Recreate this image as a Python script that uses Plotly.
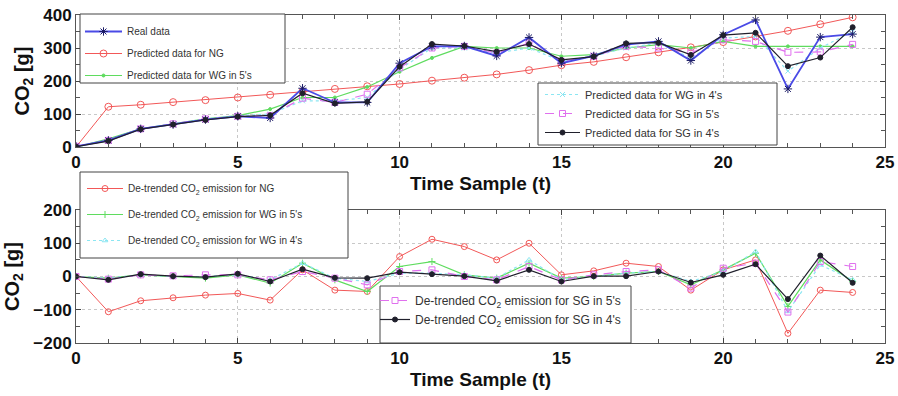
import plotly.graph_objects as go

# ---- data -----------------------------------------------------------------
t = list(range(25))

real_data = [2, 20, 55, 68, 83, 93, 88, 178, 135, 135, 254, 305, 306, 276, 332,
             254, 276, 310, 320, 262, 340, 385, 176, 333, 342]
pred_ng = [0, 122, 128, 136, 142, 150, 158, 168, 176, 184, 191, 201, 210, 220, 233,
           248, 258, 272, 287, 302, 318, 335, 352, 372, 393]
pred_wg5 = [0, 25, 55, 70, 85, 95, 115, 150, 150, 182, 228, 270, 305, 300, 300,
            275, 280, 300, 310, 300, 320, 305, 305, 305, 305]
pred_wg4 = [0, 20, 55, 70, 85, 95, 100, 140, 140, 150, 235, 300, 300, 285, 300,
            260, 275, 300, 315, 270, 330, 335, 230, 300, 350]
pred_sg5 = [2, 20, 55, 70, 85, 93, 95, 148, 135, 160, 240, 300, 305, 285, 315,
            260, 275, 305, 300, 285, 325, 320, 287, 288, 311]
pred_sg4 = [1, 18, 54, 68, 82, 92, 96, 163, 132, 137, 243, 312, 306, 289, 312,
            264, 274, 314, 316, 279, 339, 346, 245, 271, 363]

dt_ng = [0, -106, -73, -64, -56, -51, -71, 20, -41, -45, 60, 112, 90, 50, 100,
         5, 17, 40, 30, -41, 20, 50, -171, -41, -48]
dt_wg5 = [0, -5, 5, 0, -5, 5, -20, 40, -10, -45, 30, 45, 5, -5, 40,
          -5, 0, 10, 15, -25, 20, 70, -90, 50, -15]
dt_wg4 = [0, -5, 5, 0, 0, 5, -10, 40, -5, -15, 10, 10, 5, -5, 50,
          -10, 0, 10, 15, -15, 15, 75, -105, 35, -10]
dt_sg5 = [0, -8, 5, 2, 5, 5, -10, 15, -5, -25, 15, 20, 0, -10, 30,
          -10, 5, 15, 20, -35, 25, 40, -107, 45, 30]
dt_sg4 = [0, -10, 7, 1, -2, 8, -15, 22, -4, -5, 13, 7, 1, -13, 20,
          -15, 1, 1, 15, -18, 5, 37, -68, 63, -19]

x_ticks = [0, 5, 10, 15, 20, 25]
top_ticks = [0, 100, 200, 300, 400]
bottom_ticks = [-200, -100, 0, 100, 200]

# ---- styles ---------------------------------------------------------------
BLUE = "#4a4ae6"
NAVY = "#1c1c66"
RED = "#f25858"
GREEN = "#5fdc5f"
CYAN = "#8ce6f2"
MAGENTA = "#e070ee"
BLACK = "#20202c"

FONT = "Liberation Sans"
CO2 = "CO<sub>2</sub>"

fig = go.Figure()


def add(x, y, name, color, width, dash, symbol, msize, mcolor, xa, ya, legend):
    fig.add_trace(go.Scatter(
        x=x, y=y, name=name, mode="lines+markers",
        line=dict(color=color, width=width, dash=dash),
        marker=dict(symbol=symbol, size=msize, color=mcolor,
                    line=dict(color=mcolor, width=1)),
        xaxis=xa, yaxis=ya, legend=legend, legendgroup=name,
    ))


# upper panel: measured and predicted emission
add(t, pred_ng, "Predicted data for NG", RED, 1, "solid", "circle-open", 7, RED, "x", "y", "legend")
add(t, pred_wg5, "Predicted data for WG in 5's", GREEN, 1.2, "solid", "circle", 3, GREEN, "x", "y", "legend")
add(t, pred_wg4, "Predicted data for WG in 4's", CYAN, 1.2, "dot", "x-thin-open", 5, CYAN, "x", "y", "legend2")
add(t, pred_sg5, "Predicted data for SG in 5's", MAGENTA, 1.2, "dash", "square-open", 6, MAGENTA, "x", "y", "legend2")
add(t, real_data, "Real data", BLUE, 1.8, "solid", "asterisk-open", 7, NAVY, "x", "y", "legend")
add(t, pred_sg4, "Predicted data for SG in 4's", BLACK, 1.2, "solid", "circle", 5, BLACK, "x", "y", "legend2")

# lower panel: de-trended emission
add(t, dt_ng, f"De-trended {CO2} emission for NG", RED, 1, "solid", "circle-open", 6, RED, "x2", "y2", "legend3")
add(t, dt_wg5, f"De-trended {CO2} emission for WG in 5's", GREEN, 1.2, "solid", "cross-thin-open", 5, GREEN, "x2", "y2", "legend3")
add(t, dt_wg4, f"De-trended {CO2} emission for WG in 4's", CYAN, 1.2, "dot", "triangle-up-open", 5, CYAN, "x2", "y2", "legend3")
add(t, dt_sg5, f"De-trended {CO2} emission for SG in 5's", MAGENTA, 1.2, "dash", "square-open", 6, MAGENTA, "x2", "y2", "legend4")
add(t, dt_sg4, f"De-trended {CO2} emission for SG in 4's", BLACK, 1.2, "solid", "circle", 5, BLACK, "x2", "y2", "legend4")

# legend order inside the first box
order1 = ["Real data", "Predicted data for NG", "Predicted data for WG in 5's"]
for tr in fig.data:
    if tr.name in order1:
        tr.legendrank = order1.index(tr.name) + 1

tickfont = dict(family=FONT, size=17, color="#111", weight="bold")
titlefont = dict(family=FONT, size=19, color="#111", weight="bold")

common_x = dict(
    range=[0, 25], tickvals=x_ticks, ticks="inside", ticklen=5, tickcolor="#444",
    showline=True, linecolor="#555", linewidth=1, mirror="ticks",
    showgrid=True, gridcolor="#c8c8c8", griddash="dot", gridwidth=1,
    zeroline=False, tickfont=tickfont, automargin=False,
    minor=dict(dtick=1, ticks="inside", ticklen=4, tickcolor="#555", showgrid=False),
    title=dict(text="Time Sample (t)", font=titlefont, standoff=5),
)
common_y = dict(
    ticks="inside", ticklen=5, tickcolor="#444",
    showline=True, linecolor="#555", linewidth=1, mirror="ticks",
    showgrid=True, gridcolor="#c8c8c8", griddash="dot", gridwidth=1,
    zeroline=False, tickfont=tickfont, automargin=False,
    minor=dict(dtick=50, ticks="inside", ticklen=4, tickcolor="#555", showgrid=False),
    title=dict(text=f"{CO2} [g]", font=dict(titlefont, size=20), standoff=8),
)

L, R, T, B = 76, 13, 15, 53
W, H = 898, 396
PW, PH = W - L - R, H - T - B


def px(xp):
    return (xp - L) / PW


def py(yp):
    return (H - B - yp) / PH


fig.update_layout(
    width=W, height=H,
    margin=dict(l=L, r=R, t=T, b=B),
    paper_bgcolor="white", plot_bgcolor="white",
    font=dict(family=FONT, color="#111"),
    showlegend=True,
    xaxis=dict(common_x, domain=[0, 1], anchor="y"),
    yaxis=dict(common_y, domain=[py(147), 1], range=[0, 400], tickvals=top_ticks),
    xaxis2=dict(common_x, domain=[0, 1], anchor="y2"),
    yaxis2=dict(common_y, domain=[0, py(210)], range=[-200, 200], tickvals=bottom_ticks),
)

# legend frames (white boxes) and legend contents
frames = [
    (80, 14, 285, 83),
    (538, 83, 777, 145),
    (80, 172, 348, 258),
    (380, 286, 631, 343),
]
for x0, y0, x1, y1 in frames:
    fig.add_shape(type="rect", xref="paper", yref="paper",
                  x0=px(x0), x1=px(x1), y0=py(y1), y1=py(y0),
                  line=dict(color="#444", width=1), fillcolor="white", layer="above")

leg_common = dict(bgcolor="rgba(0,0,0,0)", borderwidth=0, xanchor="left",
                  yanchor="top", traceorder="grouped")
fig.update_layout(
    legend=dict(leg_common, x=px(80), y=py(17), itemwidth=37, tracegroupgap=3,
                font=dict(family=FONT, size=10, color="#333")),
    legend2=dict(leg_common, x=px(540), y=py(80), itemwidth=35, tracegroupgap=0,
                 font=dict(family=FONT, size=11, color="#333")),
    legend3=dict(leg_common, x=px(82), y=py(174), itemwidth=36, tracegroupgap=7,
                 font=dict(family=FONT, size=10, color="#333")),
    legend4=dict(leg_common, x=px(375), y=py(286), itemwidth=30, tracegroupgap=0,
                 font=dict(family=FONT, size=12, color="#333")),
)

fig.write_html("out.html")
